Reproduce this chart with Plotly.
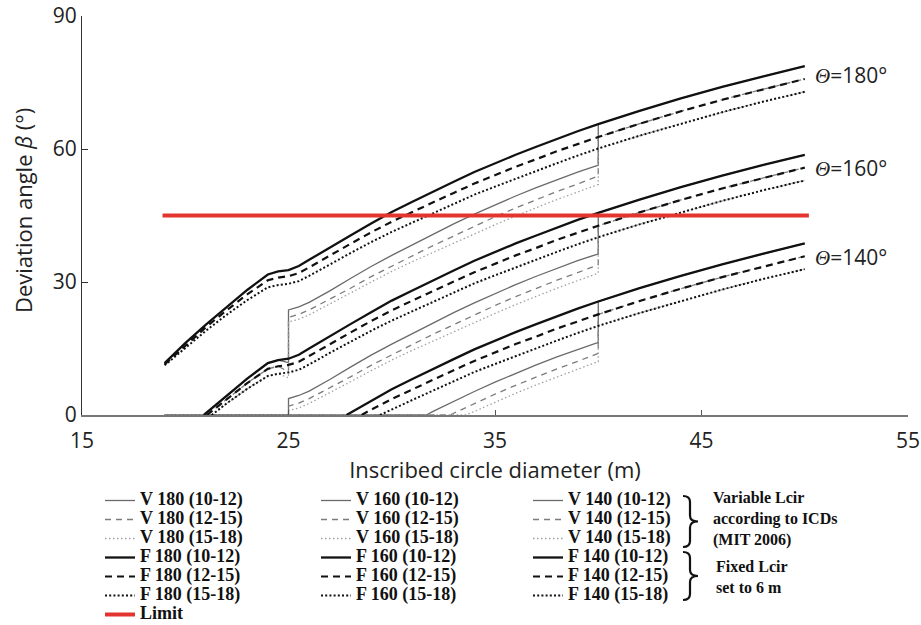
import plotly.graph_objects as go

# ---------------- data ----------------
# Fixed Lcir curves, Theta = 180
X_F180 = [19, 20, 21, 22, 23, 24, 24.5, 25, 25.5, 26, 27, 28, 29, 30, 31, 32, 33, 34, 35, 36, 37, 38, 39, 40, 42, 44, 46, 48, 50]
F180_S = [11.7, 16.2, 20.4, 24.4, 28.2, 31.7, 32.4, 32.7, 33.6, 35.0, 37.8, 40.5, 43.2, 45.8, 48.1, 50.4, 52.6, 54.8, 56.8, 58.7, 60.5, 62.3, 64.0, 65.6, 68.6, 71.4, 74.0, 76.4, 78.7]
F180_D = [11.4, 15.7, 19.8, 23.6, 27.2, 30.4, 31.0, 31.3, 32.0, 33.3, 36.0, 38.6, 41.2, 43.6, 45.8, 48.0, 50.1, 52.2, 54.1, 56.0, 57.7, 59.5, 61.1, 62.7, 65.7, 68.5, 71.1, 73.5, 75.8]
F180_T = [11.2, 15.2, 19.0, 22.6, 25.9, 28.8, 29.3, 29.6, 30.2, 31.4, 34.0, 36.5, 39.0, 41.3, 43.4, 45.5, 47.6, 49.7, 51.5, 53.3, 55.0, 56.8, 58.5, 60.1, 63.0, 65.7, 68.3, 70.7, 72.9]

# Fixed Lcir curves, Theta = 160
X_F160_S = [20.9, 21, 22, 23, 24, 24.5, 25, 25.5, 26, 27, 28, 29, 30, 31, 32, 33, 34, 35, 36, 37, 38, 39, 40, 42, 44, 46, 48, 50]
F160_S = [0, 0.4, 4.4, 8.2, 11.7, 12.4, 12.7, 13.6, 15.0, 17.8, 20.5, 23.2, 25.8, 28.1, 30.4, 32.6, 34.8, 36.8, 38.7, 40.5, 42.3, 44.0, 45.6, 48.6, 51.4, 54.0, 56.4, 58.7]
X_F160_D = [21.05, 22, 23, 24, 24.5, 25, 25.5, 26, 27, 28, 29, 30, 31, 32, 33, 34, 35, 36, 37, 38, 39, 40, 42, 44, 46, 48, 50]
F160_D = [0, 3.6, 7.2, 10.4, 11.0, 11.3, 12.0, 13.3, 16.0, 18.6, 21.2, 23.6, 25.8, 28.0, 30.1, 32.2, 34.1, 36.0, 37.7, 39.5, 41.1, 42.7, 45.7, 48.5, 51.1, 53.5, 55.8]
X_F160_T = [21.28, 22, 23, 24, 24.5, 25, 25.5, 26, 27, 28, 29, 30, 31, 32, 33, 34, 35, 36, 37, 38, 39, 40, 42, 44, 46, 48, 50]
F160_T = [0, 2.6, 5.9, 8.8, 9.3, 9.6, 10.2, 11.4, 14.0, 16.5, 19.0, 21.3, 23.4, 25.5, 27.6, 29.7, 31.5, 33.3, 35.0, 36.8, 38.5, 40.1, 43.0, 45.7, 48.3, 50.7, 52.9]

# Fixed Lcir curves, Theta = 140
X_F140_S = [27.81, 28, 29, 30, 31, 32, 33, 34, 35, 36, 37, 38, 39, 40, 42, 44, 46, 48, 50]
F140_S = [0, 0.5, 3.2, 5.8, 8.1, 10.4, 12.6, 14.8, 16.8, 18.7, 20.5, 22.3, 24.0, 25.6, 28.6, 31.4, 34.0, 36.4, 38.7]
X_F140_D = [28.54, 29, 30, 31, 32, 33, 34, 35, 36, 37, 38, 39, 40, 42, 44, 46, 48, 50]
F140_D = [0, 1.2, 3.6, 5.8, 8.0, 10.1, 12.2, 14.1, 16.0, 17.7, 19.5, 21.1, 22.7, 25.7, 28.5, 31.1, 33.5, 35.8]
X_F140_T = [29.43, 30, 31, 32, 33, 34, 35, 36, 37, 38, 39, 40, 42, 44, 46, 48, 50]
F140_T = [0, 1.3, 3.4, 5.5, 7.6, 9.7, 11.5, 13.3, 15.0, 16.8, 18.5, 20.1, 23.0, 25.7, 28.3, 30.7, 32.9]

# Variable Lcir curves, Theta = 180
X_V180_S = [20.9, 21, 22, 23, 24, 24.5, 24.9, 25, 25, 25.5, 26, 27, 28, 29, 30, 31, 32, 33, 34, 35, 36, 37, 38, 39, 39.9, 40, 40, 42, 44, 46, 48, 50]
V180_S = [0, 0.4, 4.4, 8.2, 11.7, 12.4, 11.9, 11.8, 23.7, 24.4, 25.4, 28.0, 30.8, 33.5, 36.0, 38.4, 40.8, 43.1, 45.3, 47.4, 49.4, 51.3, 53.1, 54.8, 56.2, 56.3, 65.6, 68.6, 71.4, 74.0, 76.4, 78.7]
X_V180_D = [21.05, 22, 23, 24, 24.5, 24.9, 25, 25, 25.5, 26, 27, 28, 29, 30, 31, 32, 33, 34, 35, 36, 37, 38, 39, 39.9, 40, 40, 42, 44, 46, 48, 50]
V180_D = [0, 3.6, 7.2, 10.4, 11.0, 10.0, 9.9, 22.0, 22.7, 23.7, 26.1, 28.6, 31.2, 33.6, 35.9, 38.2, 40.4, 42.6, 44.7, 46.7, 48.6, 50.4, 52.1, 53.8, 53.9, 62.7, 65.7, 68.5, 71.1, 73.5, 75.8]
X_V180_T = [21.28, 22, 23, 24, 24.5, 24.9, 25, 25, 25.5, 26, 27, 28, 29, 30, 31, 32, 33, 34, 35, 36, 37, 38, 39, 39.9, 40, 40, 42, 44, 46, 48, 50]
V180_T = [0, 2.6, 5.9, 8.8, 9.3, 8.5, 8.4, 21.0, 21.6, 22.6, 25.0, 27.5, 30.0, 32.4, 34.6, 36.7, 38.8, 40.8, 42.9, 44.9, 46.8, 48.6, 50.3, 51.9, 52.0, 60.1, 63.0, 65.7, 68.3, 70.7, 72.9]

# Variable Lcir curves, Theta = 160
X_V160 = [19, 25, 25, 25.5, 26, 27, 28, 29, 30, 31, 32, 33, 34, 35, 36, 37, 38, 39, 39.9, 40, 40, 42, 44, 46, 48, 50]
V160_S = [0, 0, 3.7, 4.4, 5.4, 8.0, 10.8, 13.5, 16.0, 18.4, 20.8, 23.1, 25.3, 27.4, 29.4, 31.3, 33.1, 34.8, 36.2, 36.3, 45.6, 48.6, 51.4, 54.0, 56.4, 58.7]
V160_D = [0, 0, 2.0, 2.7, 3.7, 6.1, 8.6, 11.2, 13.6, 15.9, 18.2, 20.4, 22.6, 24.7, 26.7, 28.6, 30.4, 32.1, 33.8, 33.9, 42.7, 45.7, 48.5, 51.1, 53.5, 55.8]
V160_T = [0, 0, 1.0, 1.6, 2.6, 5.0, 7.5, 10.0, 12.4, 14.6, 16.7, 18.8, 20.8, 22.9, 24.9, 26.8, 28.6, 30.3, 31.9, 32.0, 40.1, 43.0, 45.7, 48.3, 50.7, 52.9]

# Variable Lcir curves, Theta = 140
X_V140_S = [19, 31.67, 32, 33, 34, 35, 36, 37, 38, 39, 39.9, 40, 40, 42, 44, 46, 48, 50]
V140_S = [0, 0, 0.8, 3.1, 5.3, 7.4, 9.4, 11.3, 13.1, 14.8, 16.2, 16.3, 25.6, 28.6, 31.4, 34.0, 36.4, 38.7]
X_V140_D = [19, 32.82, 33, 34, 35, 36, 37, 38, 39, 39.9, 40, 40, 42, 44, 46, 48, 50]
V140_D = [0, 0, 0.4, 2.6, 4.7, 6.7, 8.6, 10.4, 12.1, 13.8, 13.9, 22.7, 25.7, 28.5, 31.1, 33.5, 35.8]
X_V140_T = [19, 33.6, 34, 35, 36, 37, 38, 39, 39.9, 40, 40, 42, 44, 46, 48, 50]
V140_T = [0, 0, 0.8, 2.9, 4.9, 6.8, 8.6, 10.3, 11.9, 12.0, 20.1, 23.0, 25.7, 28.3, 30.7, 32.9]

# Limit
LIMIT_X = [18.9, 50.2]
LIMIT_Y = [45, 45]

X_TICKS = [15, 25, 35, 45, 55]
Y_TICKS = [0, 30, 60, 90]
THETA_LABELS = ['180', '160', '140']
THETA_Y = [76.7, 55.7, 35.6]
THETA_X = 50.4

# ---------------- figure ----------------
fig = go.Figure()

# plot-area geometry in pixels (for paper-coordinate decorations)
L, R, T, B = 82, 908, 16, 415
W, H = 921, 625


def px2paper(px, py):
    return (px - L) / (R - L), (B - py) / (B - T)


styles = {
    'VS': dict(color='#6a6a6a', width=1.3, dash='solid'),
    'VD': dict(color='#7c7c7c', width=1.3, dash='6px,5px'),
    'VT': dict(color='#a0a0a0', width=1.3, dash='1.5px,2.5px'),
    'FS': dict(color='#111111', width=2.3, dash='solid'),
    'FD': dict(color='#111111', width=2.2, dash='7px,5px'),
    'FT': dict(color='#111111', width=2.0, dash='2px,2.2px'),
}


def lab(t):
    return '<span style="font-size:18px"><b>' + t + '</b></span>'


series = [
    # (name, x, y, style, legend, rank)
    ('V 180 (10-12)', X_V180_S, V180_S, 'VS', 'legend', 1),
    ('V 180 (12-15)', X_V180_D, V180_D, 'VD', 'legend', 2),
    ('V 180 (15-18)', X_V180_T, V180_T, 'VT', 'legend', 3),
    ('V 160 (10-12)', X_V160, V160_S, 'VS', 'legend2', 1),
    ('V 160 (12-15)', X_V160, V160_D, 'VD', 'legend2', 2),
    ('V 160 (15-18)', X_V160, V160_T, 'VT', 'legend2', 3),
    ('V 140 (10-12)', X_V140_S, V140_S, 'VS', 'legend3', 1),
    ('V 140 (12-15)', X_V140_D, V140_D, 'VD', 'legend3', 2),
    ('V 140 (15-18)', X_V140_T, V140_T, 'VT', 'legend3', 3),
    ('F 180 (10-12)', X_F180, F180_S, 'FS', 'legend', 4),
    ('F 180 (12-15)', X_F180, F180_D, 'FD', 'legend', 5),
    ('F 180 (15-18)', X_F180, F180_T, 'FT', 'legend', 6),
    ('F 160 (10-12)', X_F160_S, F160_S, 'FS', 'legend2', 4),
    ('F 160 (12-15)', X_F160_D, F160_D, 'FD', 'legend2', 5),
    ('F 160 (15-18)', X_F160_T, F160_T, 'FT', 'legend2', 6),
    ('F 140 (10-12)', X_F140_S, F140_S, 'FS', 'legend3', 4),
    ('F 140 (12-15)', X_F140_D, F140_D, 'FD', 'legend3', 5),
    ('F 140 (15-18)', X_F140_T, F140_T, 'FT', 'legend3', 6),
]

for name, xs, ys, st, lg, rank in series:
    fig.add_trace(go.Scatter(x=xs, y=ys, mode='lines', name=lab(name),
                             line=styles[st], legend=lg, legendrank=rank,
                             hoverinfo='skip'))

fig.add_trace(go.Scatter(x=LIMIT_X, y=LIMIT_Y, mode='lines', name=lab('Limit'),
                         line=dict(color='#e3342f', width=4), legend='legend',
                         legendrank=7, hoverinfo='skip'))

# Theta labels
annotations = []
for t, yv in zip(THETA_LABELS, THETA_Y):
    annotations.append(dict(
        x=THETA_X, y=yv, xref='x', yref='y', xanchor='left', yanchor='middle',
        text='<span style="font-family:Liberation Serif"><i>Θ</i></span>=' + t + '°',
        showarrow=False, font=dict(family='Open Sans', size=21, color='#222')))

# y-axis title (as a rotated annotation)
tx, ty = px2paper(23, 211)
annotations.append(dict(x=tx, y=ty, xref='paper', yref='paper', xanchor='center',
                        yanchor='middle', textangle=-90, showarrow=False,
                        text='Deviation angle <i>β</i> (°)',
                        font=dict(family='Open Sans', size=22, color='#222')))

# notes beside the braces
nx1, ny1 = px2paper(711, 487)
annotations.append(dict(x=nx1, y=ny1, xref='paper', yref='paper', xanchor='left',
                        yanchor='top', align='left', showarrow=False,
                        text='<b>Variable Lcir<br>according to ICDs<br>(MIT 2006)</b>',
                        font=dict(family='Liberation Serif', size=16, color='#111')))
nx2, ny2 = px2paper(714, 556)
annotations.append(dict(x=nx2, y=ny2, xref='paper', yref='paper', xanchor='left',
                        yanchor='top', align='left', showarrow=False,
                        text='<b>Fixed Lcir<br>set to 6 m</b>',
                        font=dict(family='Liberation Serif', size=16, color='#111')))


def brace(top, bot, xl=683, xv=690, xt=698):
    mid = (top + bot) / 2
    pts = [('M', [(xl, top)]),
           ('Q', [(xv, top), (xv, top + 6)]),
           ('L', [(xv, mid - 6)]),
           ('Q', [(xv, mid), (xt, mid)]),
           ('Q', [(xv, mid), (xv, mid + 6)]),
           ('L', [(xv, bot - 6)]),
           ('Q', [(xv, bot), (xl, bot)])]
    s = ''
    for cmd, ps in pts:
        s += cmd + ' '.join('%.5f,%.5f' % px2paper(a, b) for a, b in ps) + ' '
    return dict(type='path', xref='paper', yref='paper', path=s.strip(),
                line=dict(color='#111', width=2.2))


shapes = [brace(496, 547), brace(552, 600)]

legend_common = dict(xref='container', yref='container', xanchor='left', yanchor='top',
                     font=dict(family='Liberation Serif', size=12, color='#111'),
                     bgcolor='rgba(0,0,0,0)', borderwidth=0, itemwidth=30,
                     tracegroupgap=0, traceorder='normal')

fig.update_layout(
    width=W, height=H,
    margin=dict(l=L, r=W - R, t=T, b=H - B, autoexpand=False),
    paper_bgcolor='white', plot_bgcolor='white',
    font=dict(family='Open Sans', size=21, color='#222'),
    showlegend=True,
    legend=dict(x=100 / W, y=1 - 486 / H, **legend_common),
    legend2=dict(x=316 / W, y=1 - 486 / H, **legend_common),
    legend3=dict(x=528 / W, y=1 - 486 / H, **legend_common),
    annotations=annotations,
    shapes=shapes,
    xaxis=dict(range=[15, 55], tickvals=X_TICKS, ticks='inside', ticklen=5,
               tickcolor='#555', showline=True, linecolor='#777', linewidth=1.5,
               showgrid=False, zeroline=False, automargin=True, tickangle=0,
               ticklabelstandoff=6,
               tickfont=dict(family='Open Sans', size=21, color='#222'),
               title=dict(text='Inscribed circle diameter (m)', standoff=3,
                          font=dict(family='Open Sans', size=22, color='#222'))),
    yaxis=dict(range=[0, 90], tickvals=Y_TICKS, ticks='inside', ticklen=6,
               tickcolor='#333', showline=True, linecolor='#333', linewidth=1.3,
               showgrid=False, zeroline=False, automargin=True,
               tickfont=dict(family='Open Sans', size=21, color='#222')),
)

fig.write_html('out.html')
